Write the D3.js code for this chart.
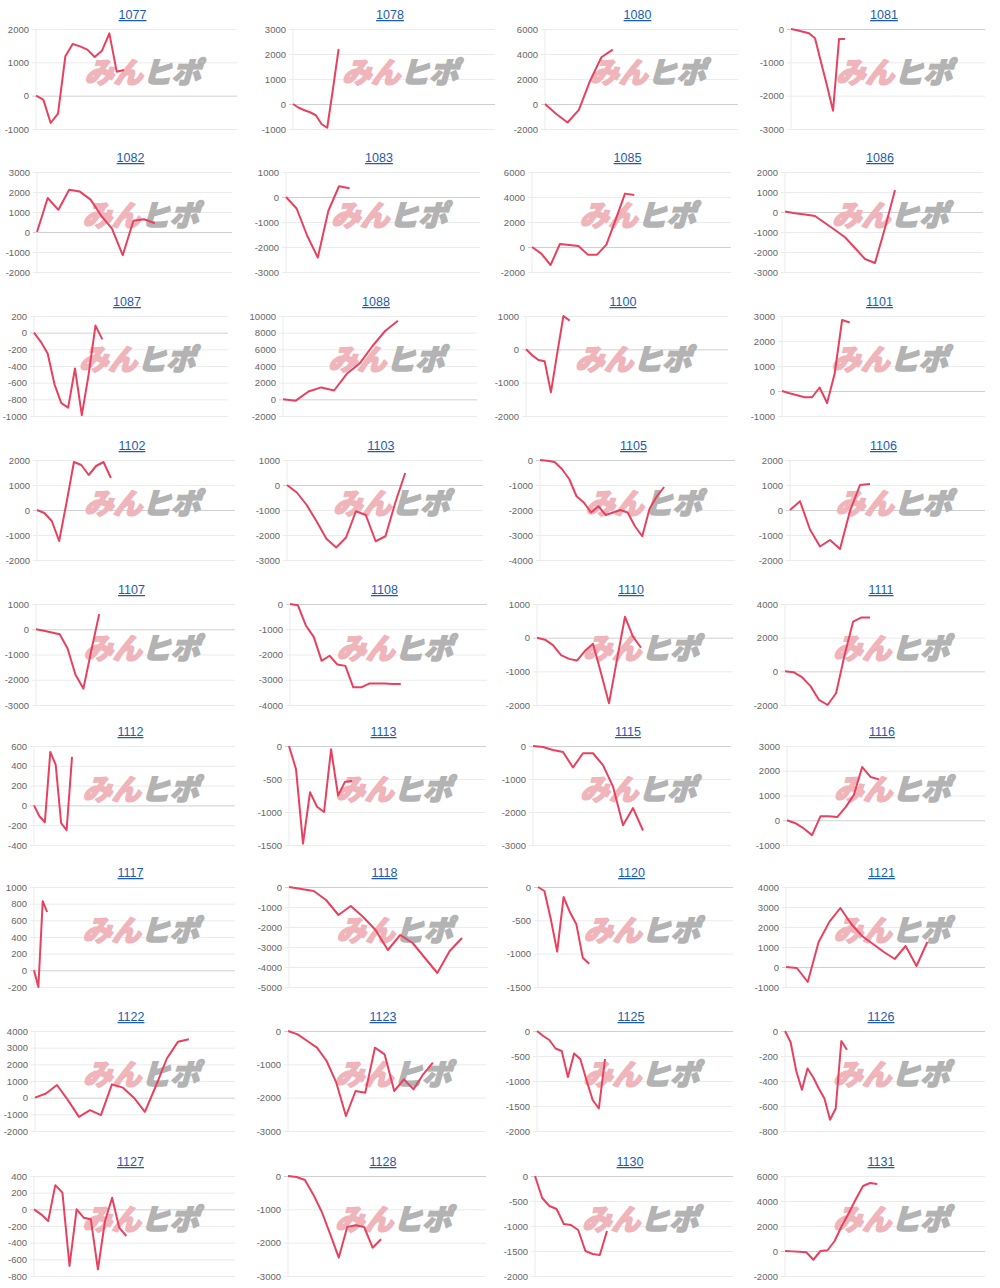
<!DOCTYPE html>
<html>
<head>
<meta charset="utf-8">
<script src="https://cdn.jsdelivr.net/npm/d3@7"></script>
<style>
  body { margin: 0; background: #fff; }
</style>
</head>
<body>
<svg id="drawing_region"></svg>
<script>
// パネルのタイトル (銘柄コード)
const titles = ['1077','1078','1080','1081','1082','1083','1085','1086','1087','1088','1100','1101',
                '1102','1103','1105','1106','1107','1108','1110','1111','1112','1113','1115','1116',
                '1117','1118','1120','1121','1122','1123','1125','1126','1127','1128','1130','1131'];

// 各パネルの系列 (読み取り値)
const v1077 = [0,-120,-820,-540,1180,1550,1480,1380,1160,1350,1870,720,770];
const v1078 = [0,-150,-250,-330,-450,-800,-950,600,2200];
const v1080 = [0,-800,-1480,-470,1870,3740,4350];
const v1081 = [0,-40,-80,-130,-280,-1000,-1700,-2450,-300,-300];
const v1082 = [0,1700,1110,2110,2020,1620,810,170,-1160,560,640,440];
const v1083 = [0,-460,-1550,-2420,-550,430,350];
const v1085 = [0,-530,-1440,240,160,80,-610,-610,190,2190,4270,4160];
const v1086 = [30,-60,-130,-200,-550,-900,-1260,-1800,-2350,-2550,-800,1100];
const v1087 = [0,-110,-250,-620,-845,-900,-430,-990,-500,85,-80];
const v1088 = [0,-160,940,1430,1060,3060,4290,6370,8200,9430];
const v1100 = [0,-180,-320,-360,-1290,-130,1000,860];
const v1101 = [0,-90,-170,-250,-250,140,-480,690,2840,2740];
const v1102 = [0,-120,-440,-1240,300,1920,1800,1400,1760,1920,1280];
const v1103 = [0,-300,-800,-1450,-2150,-2500,-2100,-1050,-1200,-2250,-2050,-700,480];
const v1105 = [0,-30,-80,-360,-760,-1450,-1700,-2100,-1850,-2200,-2100,-2000,-2100,-2650,-3050,-1950,-1450,-1080];
const v1106 = [0,350,-780,-1460,-1200,-1560,-40,1000,1040];
const v1107 = [0,-60,-130,-200,-760,-1800,-2350,-850,600];
const v1108 = [0,-50,-850,-1300,-2250,-2050,-2400,-2450,-3300,-3300,-3150,-3150,-3150,-3170,-3170];
const v1110 = [0,-60,-220,-520,-630,-680,-390,-180,-1050,-1950,-650,620,30,-300];
const v1111 = [0,-50,-350,-880,-1700,-2000,-1300,950,2950,3200,3200];
const v1112 = [0,-110,-170,540,410,-180,-250,490];
const v1113 = [0,-350,-1480,-700,-920,-1000,-50,-750,-540,-530];
const v1115 = [0,-30,-120,-180,-650,-220,-220,-580,-1230,-2400,-1880,-2560];
const v1116 = [0,-120,-330,-600,160,160,130,520,1020,2150,1750,1650];
const v1117 = [0,-200,830,700];
const v1118 = [0,-100,-200,-650,-1400,-950,-1500,-2150,-3150,-2400,-2800,-3550,-4300,-3200,-2550];
const v1120 = [0,-60,-480,-970,-150,-380,-560,-1060,-1150];
const v1121 = [0,-50,-750,1250,2270,2950,2150,1550,1150,750,400,1050,50,1250];
const v1122 = [0,250,760,-150,-1150,-750,-1050,800,600,0,-850,700,2350,3350,3500];
const v1123 = [0,-100,-300,-500,-900,-1550,-2550,-1800,-1850,-500,-700,-1800,-1450,-1750,-1300,-950];
const v1125 = [0,-100,-180,-350,-400,-920,-450,-560,-980,-1380,-1550,-560];
const v1126 = [0,-90,-320,-470,-300,-370,-460,-540,-710,-620,-80,-150];
const v1127 = [0,-60,-140,290,200,-680,0,-100,-120,-720,-140,140,-220,-320];
const v1128 = [0,-30,-120,-560,-1080,-1750,-2450,-1530,-1480,-1530,-2150,-1900];
const v1130 = [0,-440,-600,-660,-960,-980,-1080,-1500,-1560,-1580,-1100];
const v1131 = [0,-30,-60,-100,-700,0,60,800,2000,3040,4160,5200,5440,5360];

const series = [v1077,v1078,v1080,v1081,v1082,v1083,v1085,v1086,v1087,v1088,v1100,v1101,
                v1102,v1103,v1105,v1106,v1107,v1108,v1110,v1111,v1112,v1113,v1115,v1116,
                v1117,v1118,v1120,v1121,v1122,v1123,v1125,v1126,v1127,v1128,v1130,v1131];

// y軸の目盛り
const yTicks = [
  [-1000,0,1000,2000], [-1000,0,1000,2000,3000], [-2000,0,2000,4000,6000], [-3000,-2000,-1000,0],
  [-2000,-1000,0,1000,2000,3000], [-3000,-2000,-1000,0,1000], [-2000,0,2000,4000,6000], [-3000,-2000,-1000,0,1000,2000],
  [-1000,-800,-600,-400,-200,0,200], [-2000,0,2000,4000,6000,8000,10000], [-2000,-1000,0,1000], [-1000,0,1000,2000,3000],
  [-2000,-1000,0,1000,2000], [-3000,-2000,-1000,0,1000], [-4000,-3000,-2000,-1000,0], [-2000,-1000,0,1000,2000],
  [-3000,-2000,-1000,0,1000], [-4000,-3000,-2000,-1000,0], [-2000,-1000,0,1000], [-2000,0,2000,4000],
  [-400,-200,0,200,400,600], [-1500,-1000,-500,0], [-3000,-2000,-1000,0], [-1000,0,1000,2000,3000],
  [-200,0,200,400,600,800,1000], [-5000,-4000,-3000,-2000,-1000,0], [-1500,-1000,-500,0], [-1000,0,1000,2000,3000,4000],
  [-2000,-1000,0,1000,2000,3000,4000], [-3000,-2000,-1000,0], [-2000,-1500,-1000,-500,0], [-800,-600,-400,-200,0],
  [-800,-600,-400,-200,0,200,400], [-3000,-2000,-1000,0], [-2000,-1500,-1000,-500,0], [-2000,0,2000,4000,6000]
];

// x軸の全期間 (日数相当)
const xSpans = [27.4,35.4,17.1,32.3, 18.2,18.3,21.4,19.8, 28.4,15.2,32.4,27,
                26.8,19.9,26.7,19.5, 25.2,24.9,24.5,23.5, 37,28.1,19.8,23.7,
                46,16.1,30.5,18.3, 18.2,20.5,31.7,35.5, 28.3,23.4,27.5,28.2];

// レイアウト
const plotLeft  = [36,293,545,791, 37,286,532,785, 34,283,526,782, 37,287,540,790, 36,290,537,785,
                   34,289,533,787, 34,289,538,786, 35,288,537,785, 34,288,535,785];
const plotRight = [237,495,738,985, 232,480,731,983, 228,477,728,985, 235,483,735,985, 235,487,733,985,
                   235,486,731,985, 235,488,733,985, 235,486,733,985, 235,486,733,985];
const rowTop    = [29,172,316,460,604,746,887,1031,1176];
const rowBottom = [129,272,416,560,705,845,987,1131,1276];

const svg = d3.select('#drawing_region')
    .attr('width', 1000)
    .attr('height', 1288)
    .style('font-family', '"Liberation Sans", Arial, sans-serif');

titles.forEach((t, i) => {
    const r = Math.floor(i / 4);
    const left = plotLeft[i], right = plotRight[i];
    const top = rowTop[r], bottom = rowBottom[r];
    const w = right - left;

    const xscale = d3.scaleLinear().domain([0, xSpans[i]]).range([left, right]);
    const yscale = d3.scaleLinear().domain(d3.extent(yTicks[i])).range([bottom, top]);

    const g = svg.append('g');

    // grid + labels
    const yaxis = d3.axisLeft(yscale)
        .tickValues(yTicks[i])
        .tickSize(w + 4)
        .tickPadding(3)
        .tickFormat(d => String(d));

    const ag = g.append('g')
        .attr('transform', `translate(${right}, 0)`)
        .call(yaxis);
    ag.select('.domain').remove();
    ag.selectAll('.tick line')
        .attr('stroke', d => d === 0 ? '#d0d0d0' : '#ebebeb');
    ag.selectAll('.tick text')
        .attr('fill', '#666')
        .style('font-size', '9.5px')
        .style('font-family', '"Liberation Sans", Arial, sans-serif');

    g.append('line')
        .attr('x1', left).attr('x2', left)
        .attr('y1', top).attr('y2', bottom)
        .attr('stroke', '#ebebeb');

    // watermark
    const wm = g.append('text')
        .attr('transform', `translate(${(left + right) / 2 + 6}, ${(top + bottom) / 2 + 4}) skewX(-16)`)
        .attr('text-anchor', 'middle')
        .style('font-family', '"Noto Sans CJK JP", sans-serif')
        .style('font-weight', 900)
        .style('font-size', '29px')
        .style('letter-spacing', '0px')
        .attr('stroke-width', 1.6)
        .attr('stroke-linejoin', 'round');
    wm.append('tspan').attr('fill', '#efb5bb').attr('stroke', '#efb5bb').text('みん');
    wm.append('tspan').attr('fill', '#b3b3b3').attr('stroke', '#b3b3b3').text('ヒポ');

    // line
    const line = d3.line()
        .x((d, k) => xscale(k))
        .y(d => yscale(d));

    g.append('path')
        .datum(series[i])
        .attr('d', line)
        .attr('fill', 'none')
        .attr('stroke', '#e8415f')
        .attr('stroke-width', 2)
        .attr('stroke-linejoin', 'round');

    // title
    g.append('text')
        .attr('x', (left + right) / 2 - 4)
        .attr('y', top - 10)
        .attr('text-anchor', 'middle')
        .attr('fill', '#1b5cb0')
        .style('font-size', '12.5px')
        .style('text-decoration', 'underline')
        .text(t);
});
</script>
</body>
</html>
